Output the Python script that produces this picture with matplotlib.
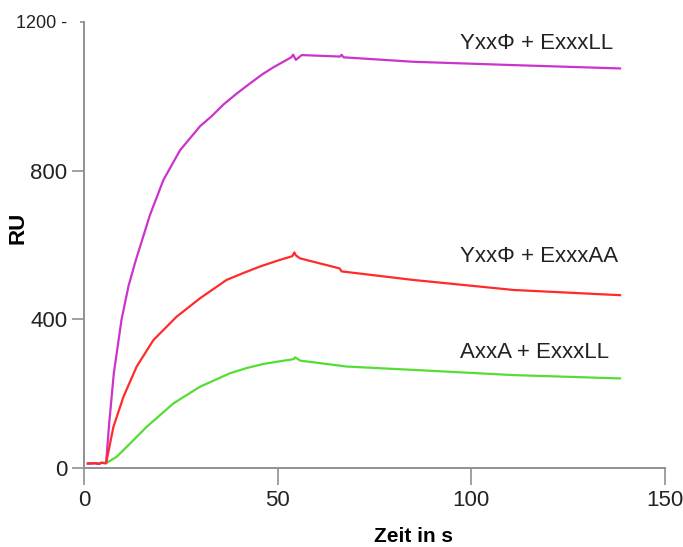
import matplotlib
matplotlib.use("Agg")
import matplotlib.pyplot as plt

# baseline before injection (shared by all three curves)
base_t = [1, 3, 3.8, 4.5, 5.7]
base_ru = [12, 13, 11, 14, 13]

# YxxPhi + ExxxLL
mag_t = [6.5, 7.7, 9.7, 11.5, 13.4, 15, 17, 20.5, 24.8, 30, 33, 36, 39.5, 42.9, 46,
         48.9, 53.5, 54.0, 54.7, 56.2, 66.1, 66.5, 67, 85, 110.9, 138.4]
mag_ru = [120, 255, 400, 490, 560, 613, 680, 775, 855, 920, 947, 978, 1008, 1035, 1059,
          1078, 1105, 1112, 1098, 1111, 1107, 1112, 1105, 1093, 1084, 1075]

# YxxPhi + ExxxAA
red_t = [7.6, 10.2, 13.6, 17.9, 23.9, 30, 36.8, 41, 45.4, 50, 53.8, 54.3, 54.7, 55.8,
         66, 66.5, 85, 110.9, 138.4]
red_ru = [111, 192, 273, 344, 407, 457, 506, 524, 542, 558, 570, 580, 572, 564,
          537, 529, 506, 479, 465]

# AxxA + ExxxLL
grn_t = [8.4, 11.9, 16.2, 23.1, 30, 37.7, 42, 46.3, 50.5, 54.2, 54.5, 55.8, 67.8,
         85, 110.9, 138.4]
grn_ru = [30, 66, 111, 174, 219, 255, 269, 280, 287, 293, 298, 289, 273,
          264, 250, 241]

labels = ["YxxΦ + ExxxLL", "YxxΦ + ExxxAA", "AxxA + ExxxLL"]
label_y = [1143, 568, 312]

plt.rcParams["font.family"] = ["Liberation Sans", "DejaVu Sans"]

fig = plt.figure(figsize=(6.83, 5.47), dpi=100)
ax = fig.add_axes([0.123, 0.1444, 0.8506, 0.8154])

ax.plot(base_t + grn_t, base_ru + grn_ru, color="#55dd33", lw=1.6)
ax.plot(base_t + mag_t, base_ru + mag_ru, color="#cc33cc", lw=1.6)
ax.plot(base_t + red_t, base_ru + red_ru, color="#ff2a2a", lw=1.6)

for lab, y in zip(labels, label_y):
    ax.text(97, y, lab, fontsize=16, color="#222222", va="center", ha="left")

ax.set_xlim(0, 150)
ax.set_ylim(0, 1200)
ax.set_xticks([0, 50, 100, 150])
ax.set_yticks([0, 400, 800, 1200])
ax.set_yticklabels(["0", "400", "800", "1200 -"])

for s in ["top", "right"]:
    ax.spines[s].set_visible(False)
for s in ["left", "bottom"]:
    ax.spines[s].set_color("#909090")
    ax.spines[s].set_linewidth(1.4)

ax.tick_params(axis="y", length=9, width=1.2, color="#909090", pad=3,
               labelsize=16, labelcolor="#222222")
ax.tick_params(axis="x", length=12, width=1.2, color="#909090", pad=4,
               labelsize=16, labelcolor="#222222")
ax.yaxis.get_major_ticks()[-1].tick1line.set_markersize(3)
ax.yaxis.get_major_ticks()[-1].label1.set_fontsize(13)

fig.text(0.0264, 0.583, "RU", fontsize=16, fontweight="bold", rotation=90,
         ha="center", va="center")
fig.text(0.6047, 0.0183, "Zeit in s", fontsize=15, fontweight="bold",
         ha="center", va="center")

plt.savefig("out.png", dpi=100)
